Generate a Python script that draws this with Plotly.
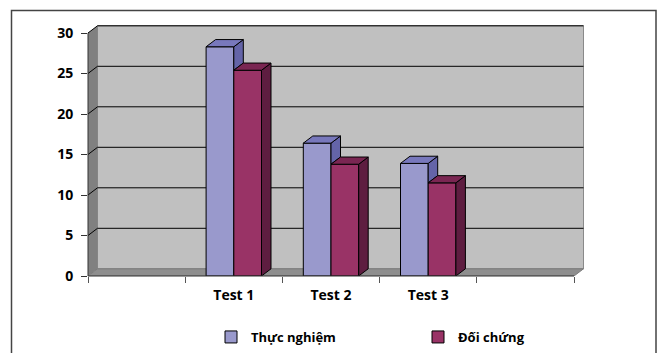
import plotly.graph_objects as go

# ---- data -------------------------------------------------------------
categories = ["", "Test 1", "Test 2", "Test 3", ""]
thuc_nghiem = [None, 28.3, 16.4, 13.9, None]
doi_chung = [None, 25.4, 13.8, 11.5, None]
series_names = ["Thực nghiệm", "Đối chứng"]
y_ticks = [0, 5, 10, 15, 20, 25, 30]

# ---- geometry / style -------------------------------------------------
W, H = 658, 353
ML, MR, MT, MB = 88, 74, 25, 77
plot_w = W - ML - MR
plot_h = H - MT - MB
cat_px = 97.2            # pixels per category slot
unit_px = 8.1            # pixels per y unit
x_range = [-0.5, -0.5 + plot_w / cat_px]
y_range = [0, plot_h / unit_px]
DX = 9.5 / cat_px        # oblique depth, x component (data units)
DY = 7.2 / unit_px       # oblique depth, y component (data units)
BW = 0.285               # bar width in category units
X_LO, X_HI = -0.5, len(categories) - 0.5
Y_TOP = y_ticks[-1]

FONT = "Open Sans"
faces = {
    "front": ["#9999CC", "#993366"],
    "top": ["#7878BC", "#7A2652"],
    "side": ["#6464A8", "#5E1D40"],
}

xs = list(range(len(categories)))
series = [thuc_nghiem, doi_chung]
offsets = [-BW, 0.0]

fig = go.Figure()

# front faces of the columns
for k, vals in enumerate(series):
    fig.add_trace(go.Bar(
        x=xs, y=vals, width=BW, offset=offsets[k], name=series_names[k],
        marker=dict(color=faces["front"][k], line=dict(color="#000000", width=1)),
        hoverinfo="skip",
    ))


def poly(px, py, color):
    fig.add_trace(go.Scatter(
        x=px + [px[0]], y=py + [py[0]], mode="lines", fill="toself",
        fillcolor=color, line=dict(color="#000000", width=1),
        hoverinfo="skip", showlegend=False,
    ))


# top and side faces of the columns
for i in xs:
    for k, vals in enumerate(series):
        h = vals[i]
        if h is None:
            continue
        x0 = i + offsets[k]
        x1 = x0 + BW
        # the part of a side face hidden behind the next column in the group
        base = 0.0
        if k + 1 < len(series) and series[k + 1][i] is not None:
            base = min(series[k + 1][i], h)
        poly([x1, x1, x1 + DX, x1 + DX], [base, h, h + DY, base + DY],
             faces["side"][k])
        poly([x0, x1, x1 + DX, x0 + DX], [h, h, h + DY, h + DY],
             faces["top"][k])

shapes = []
# back wall
shapes.append(dict(type="rect", xref="x", yref="y", layer="below",
                   x0=X_LO + DX, x1=X_HI + DX, y0=DY, y1=Y_TOP + DY,
                   fillcolor="#C0C0C0", line=dict(color="#8A8A8A", width=1)))
# left side wall
shapes.append(dict(type="path", xref="x", yref="y", layer="below",
                   path=f"M{X_LO},0 L{X_LO},{Y_TOP} L{X_LO + DX},{Y_TOP + DY} "
                        f"L{X_LO + DX},{DY} Z",
                   fillcolor="#808080", line=dict(width=0)))
# floor
shapes.append(dict(type="path", xref="x", yref="y", layer="below",
                   path=f"M{X_LO},0 L{X_HI},0 L{X_HI + DX},{DY} L{X_LO + DX},{DY} Z",
                   fillcolor="#8E8E8E", line=dict(color="#7A7A7A", width=1)))
# gridlines running across the side wall and the back wall
for v in y_ticks[1:]:
    shapes.append(dict(type="path", xref="x", yref="y", layer="below",
                       path=f"M{X_LO},{v} L{X_LO + DX},{v + DY} L{X_HI + DX},{v + DY}",
                       line=dict(color="#000000", width=1)))
# axis lines
shapes.append(dict(type="line", xref="paper", yref="y", layer="above",
                   x0=0, x1=0, y0=0, y1=Y_TOP, line=dict(color="#333333", width=1)))
shapes.append(dict(type="line", xref="x", yref="paper", layer="above",
                   x0=X_LO, x1=X_HI, y0=0, y1=0, line=dict(color="#333333", width=1)))
# chart frame
shapes.append(dict(type="rect", xref="paper", yref="paper", layer="above",
                   x0=(11.5 - ML) / plot_w, x1=(656 - ML) / plot_w,
                   y0=(MT + plot_h - 370) / plot_h, y1=(MT + plot_h - 10.5) / plot_h,
                   line=dict(color="#444444", width=1.5)))

tick_font = dict(family=FONT, size=14, color="#000000", weight="bold")

fig.update_layout(
    width=W, height=H,
    margin=dict(l=ML, r=MR, t=MT, b=MB, pad=0, autoexpand=False),
    paper_bgcolor="#FFFFFF", plot_bgcolor="rgba(0,0,0,0)",
    barmode="overlay",
    shapes=shapes,
    showlegend=True,
    legend=dict(orientation="h", x=(211 - ML) / plot_w, xanchor="left",
                y=(MT + plot_h - 337) / plot_h, yanchor="middle",
                font=dict(family=FONT, size=13, color="#000000", weight="bold"),
                entrywidth=162, entrywidthmode="pixels",
                bgcolor="rgba(0,0,0,0)", traceorder="normal"),
    xaxis=dict(range=x_range, showgrid=False, zeroline=False, showline=False,
               automargin=False,
               tickmode="array", tickvals=xs, ticktext=categories, ticks="",
               tickfont=tick_font, ticklabelstandoff=9,
               minor=dict(tickmode="array",
                          tickvals=[x - 0.5 for x in xs] + [X_HI],
                          ticks="outside", ticklen=6, tickcolor="#555555",
                          showgrid=False)),
    yaxis=dict(range=y_range, showgrid=False, zeroline=False, showline=False,
               automargin=False,
               tickmode="array", tickvals=y_ticks, ticks="outside", ticklen=6,
               tickcolor="#333333", tickfont=tick_font, ticklabelstandoff=5),
)

fig.write_html("out.html")
